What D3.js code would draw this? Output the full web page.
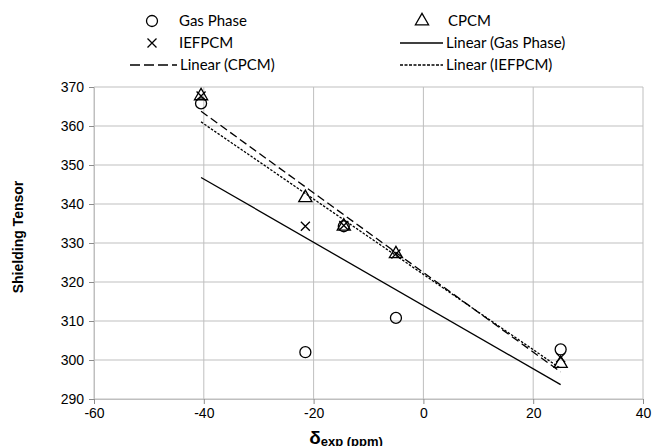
<!DOCTYPE html>
<html>
<head>
<meta charset="utf-8">
<script src="https://cdn.jsdelivr.net/npm/d3@7"></script>
<style>
  body { margin: 0; background: #fff; }
  svg { display: block; }
  .legend text { font-family: Lato, "Open Sans", sans-serif; font-size: 15px; fill: #000; }
</style>
</head>
<body>
<svg width="654" height="446"></svg>
<script>
// experimental shifts (x) for each nucleus
const shiftExp = [-40.5, -21.5, -14.5, -5, 25];
// shielding tensor values per method
const gasPhase = [365.8, 302, 334.3, 310.8, 302.7];
const cpcm = [367.7, 341.6, 334.3, 327.2, 299.1];
const iefpcm = [367.7, 334.3, 334.5, 327.2, 300.6];

const xTicks = [-60, -40, -20, 0, 20, 40];
const yTicks = [290, 300, 310, 320, 330, 340, 350, 360, 370];

const svg = d3.select("svg");
const plotLeft = 94, plotRight = 643, plotTop = 87, plotBottom = 399;

const x = d3.scaleLinear().domain([-60, 40]).range([plotLeft, plotRight]);
const y = d3.scaleLinear().domain([290, 370]).range([plotBottom, plotTop]);

// grid
const g = svg.append("g");
g.selectAll("line.h")
        .data(yTicks)
    .enter().append("line")
        .attr("class", "h")
        .attr("x1", plotLeft).attr("x2", plotRight)
        .attr("y1", d => y(d)).attr("y2", d => y(d))
        .attr("stroke", "#bfbfbf").attr("stroke-width", 1);
g.selectAll("line.v")
        .data(xTicks)
    .enter().append("line")
        .attr("class", "v")
        .attr("x1", d => x(d)).attr("x2", d => x(d))
        .attr("y1", plotTop).attr("y2", plotBottom)
        .attr("stroke", "#bfbfbf").attr("stroke-width", 1);

// axes
const fmt = d => String(d);
const yAxis = svg.append("g")
    .attr("transform", `translate(${plotLeft},0)`)
    .call(d3.axisLeft(y).tickValues(yTicks).tickFormat(fmt).tickSize(5).tickPadding(5));
const xAxis = svg.append("g")
    .attr("transform", `translate(0,${plotBottom})`)
    .call(d3.axisBottom(x).tickValues(xTicks).tickFormat(fmt).tickSize(5).tickPadding(4));
[xAxis, yAxis].forEach(a => {
    a.attr("font-family", "'Liberation Sans', Arial, sans-serif").attr("font-size", 14);
    a.select(".domain").attr("stroke", "#bfbfbf");
    a.selectAll(".tick line").attr("stroke", "#8c8c8c");
    a.selectAll(".tick text").attr("fill", "#000");
});

// axis titles
svg.append("text")
    .attr("transform", "translate(23,237) rotate(-90)")
    .attr("text-anchor", "middle")
    .style("font-family", "'Liberation Sans', Arial, sans-serif")
    .style("font-size", "14px").style("font-weight", "bold")
    .text("Shielding Tensor");
const xt = svg.append("text")
    .attr("x", 346).attr("y", 444)
    .attr("text-anchor", "middle")
    .style("font-family", "'Liberation Sans', Arial, sans-serif")
    .style("font-weight", "bold");
xt.append("tspan").style("font-size", "19px").text("δ");
xt.append("tspan").style("font-size", "13px").attr("dy", 2).text("exp (ppm)");

// trendlines (least squares, like the spreadsheet "Linear" trend)
function fit(xs, ys) {
    const mx = d3.mean(xs), my = d3.mean(ys);
    let sxy = 0, sxx = 0;
    for (let i = 0; i < xs.length; i++) {
        sxy += (xs[i] - mx) * (ys[i] - my);
        sxx += (xs[i] - mx) ** 2;
    }
    const b = sxy / sxx;
    return v => my + b * (v - mx);
}
const x0 = d3.min(shiftExp), x1 = d3.max(shiftExp);
const trends = [
    {ys: gasPhase, dash: null},
    {ys: cpcm, dash: "8,4"},
    {ys: iefpcm, dash: "2.5,1.5"}
];
trends.forEach(t => {
    const f = fit(shiftExp, t.ys);
    svg.append("line")
        .attr("x1", x(x0)).attr("y1", y(f(x0)))
        .attr("x2", x(x1)).attr("y2", y(f(x1)))
        .attr("stroke", "#000").attr("stroke-width", 1.3)
        .attr("stroke-dasharray", t.dash);
});

// markers
const circle = d3.symbol().type(d3.symbolCircle).size(95);
const tri = d3.symbol().type(d3.symbolTriangle).size(75);
function xMark(s) { return `M${-s},${-s}L${s},${s}M${-s},${s}L${s},${-s}`; }

svg.append("g").selectAll("path")
        .data(shiftExp)
    .enter().append("path")
        .attr("transform", (d, i) => `translate(${x(d)},${y(gasPhase[i])})`)
        .attr("d", circle)
        .attr("fill", "none").attr("stroke", "#000").attr("stroke-width", 1.3);
svg.append("g").selectAll("path")
        .data(shiftExp)
    .enter().append("path")
        .attr("transform", (d, i) => `translate(${x(d)},${y(cpcm[i])})`)
        .attr("d", tri)
        .attr("fill", "none").attr("stroke", "#000").attr("stroke-width", 1.3);
svg.append("g").selectAll("path")
        .data(shiftExp)
    .enter().append("path")
        .attr("transform", (d, i) => `translate(${x(d)},${y(iefpcm[i])})`)
        .attr("d", xMark(4.5))
        .attr("fill", "none").attr("stroke", "#000").attr("stroke-width", 1.3);

// legend
const legendItems = [
    {label: "Gas Phase", kind: "circle", mx: 152, tx: 179, ty: 21},
    {label: "CPCM", kind: "tri", mx: 422, tx: 448, ty: 21},
    {label: "IEFPCM", kind: "x", mx: 152, tx: 179, ty: 43},
    {label: "Linear (Gas Phase)", kind: "line", dash: null, x1: 400, x2: 443, tx: 446, ty: 43},
    {label: "Linear (CPCM)", kind: "line", dash: "10,4", x1: 130, x2: 177, tx: 180, ty: 65},
    {label: "Linear (IEFPCM)", kind: "line", dash: "3,1.5", x1: 400, x2: 443, tx: 446, ty: 65}
];
const lg = svg.append("g").attr("class", "legend");
legendItems.forEach(it => {
    if (it.kind === "circle") {
        lg.append("path").attr("transform", `translate(${it.mx},${it.ty})`).attr("d", circle)
            .attr("fill", "none").attr("stroke", "#000").attr("stroke-width", 1.3);
    } else if (it.kind === "tri") {
        lg.append("path").attr("transform", `translate(${it.mx},${it.ty})`).attr("d", tri)
            .attr("fill", "none").attr("stroke", "#000").attr("stroke-width", 1.3);
    } else if (it.kind === "x") {
        lg.append("path").attr("transform", `translate(${it.mx},${it.ty})`).attr("d", xMark(4.5))
            .attr("fill", "none").attr("stroke", "#000").attr("stroke-width", 1.3);
    } else {
        lg.append("line")
            .attr("x1", it.x1).attr("x2", it.x2)
            .attr("y1", it.ty).attr("y2", it.ty)
            .attr("stroke", "#000").attr("stroke-width", 1.3)
            .attr("stroke-dasharray", it.dash);
    }
    lg.append("text").attr("x", it.tx).attr("y", it.ty).attr("dy", "0.35em").text(it.label);
});
</script>
</body>
</html>
